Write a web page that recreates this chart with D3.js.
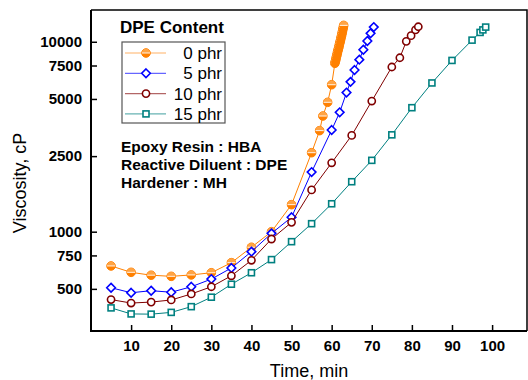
<!DOCTYPE html>
<html>
<head>
<meta charset="utf-8">
<script src="https://cdn.jsdelivr.net/npm/d3@7"></script>
<style>
  body { margin: 0; background: #fff; }
  text { font-family: Arial, "Liberation Sans", sans-serif; }
</style>
</head>
<body>
<script>
// viscosity (cP) vs time (min)
var t0 = [5,10,15,20,25,30,35,40,45,50,55,57,57.8,59,60,
    60.8,60.9,61,61.1,61.2,61.3,61.4,61.5,61.6,61.7,61.8,61.9,62,62.1,62.2,62.3,62.4,62.5,62.6,62.7,62.8,62.9,63]
var v0 = [660,611,590,582,592,608,687,828,1000,1388,2606,3405,4065,4800,5940,
    7700,7850,8000,8170,8350,8520,8700,8870,9050,9220,9400,9600,9800,10000,10200,10420,10650,10870,11100,11370,11650,11920,12200]

var t5 = [5,10,15,20,25,30,35,40,45,50,55,60,62,63.7,64.7,65.7,66.9,67.9,68.9,69.7,70.5]
var v5 = [507,477,489,480,513,563,644,785,980,1191,2060,3430,4250,5400,6150,7100,8050,9080,10100,11080,11950]

var t10 = [5,10,15,20,25,30,35,40,45,50,55,60,65,70,75,77,78.6,79.8,80.9,81.6]
var v10 = [439,421,426,437,470,513,586,707,915,1120,1660,2305,3213,4875,7365,8240,10050,10770,11550,12000]

var t15 = [5,10,15,20,25,30,35,40,45,50,55,60,65,70,75,80,85,90,95,97,97.7,98.4]
var v15 = [397,369,368,376,403,452,529,608,713,886,1102,1403,1833,2375,3236,4497,6070,7975,10200,11200,11550,11950]

var xTicks = [10,20,30,40,50,60,70,80,90,100]
var yTicks = [500,750,1000,2500,5000,7500,10000]
var seriesNames = ["0 phr","5 phr","10 phr","15 phr"]
var notes = ["Epoxy Resin : HBA","Reactive Diluent : DPE","Hardener : MH"]

var width = 528, height = 380
var pLeft = 91, pRight = 527, pTop = 10, pBottom = 331

var svg = d3.select("body").append("svg")
    .attr("width", width)
    .attr("height", height)

var x = d3.scaleLinear().domain([0, 108.7]).range([pLeft, pRight])
var y = d3.scaleLog().domain([300, 14700]).range([pBottom, pTop])

var series = [
    {name: seriesNames[0], t: t0, v: v0, color: "#ff8000", shape: "half"},
    {name: seriesNames[1], t: t5, v: v5, color: "#0000ff", shape: "diamond"},
    {name: seriesNames[2], t: t10, v: v10, color: "#800000", shape: "circle"},
    {name: seriesNames[3], t: t15, v: v15, color: "#008080", shape: "square"}
]
series.forEach(function(s){
    s.points = s.t.map(function(d, i){ return {t: d, v: s.v[i]} })
})

// axes, ticks inside
svg.append("g")
    .attr("transform", "translate(0," + pBottom + ")")
    .call(d3.axisBottom(x).tickValues(xTicks).tickSize(-6).tickPadding(9).tickFormat(d3.format("d")))
    .call(function(g){ g.select(".domain").remove() })
    .call(function(g){ g.selectAll("line").attr("stroke-width", 1.5) })
    .selectAll("text").attr("font-size", 15).attr("font-weight", "bold").attr("fill", "#000")

svg.append("g")
    .attr("transform", "translate(" + pLeft + ",0)")
    .call(d3.axisLeft(y).tickValues(yTicks).tickSize(-6).tickPadding(9).tickFormat(d3.format("d")))
    .call(function(g){ g.select(".domain").remove() })
    .call(function(g){ g.selectAll("line").attr("stroke-width", 1.5) })
    .selectAll("text").attr("font-size", 15).attr("font-weight", "bold").attr("fill", "#000")

// frame
svg.append("path")
    .attr("d", "M" + pLeft + "," + pTop + "H" + pRight + "V" + pBottom)
    .attr("fill", "none").attr("stroke", "#000").attr("stroke-width", 1.5)
svg.append("path")
    .attr("d", "M" + pLeft + "," + pTop + "V" + pBottom + "H" + pRight)
    .attr("fill", "none").attr("stroke", "#000").attr("stroke-width", 2)

var line = d3.line().x(function(d){ return x(d.t) }).y(function(d){ return y(d.v) })

function drawMarker(g, s){
    if (s.shape === "half") {
        g.append("circle").attr("r", 4.3).attr("fill", s.color).attr("stroke", s.color).attr("stroke-width", 1)
        g.append("path").attr("d", "M-4.3,0A4.3,4.3 0 0 1 4.3,0Z").attr("fill", "#ffa445")
        g.append("line").attr("x1", -4).attr("x2", 4).attr("stroke", "#fff").attr("stroke-width", 0.9)
    } else if (s.shape === "diamond") {
        g.append("path").attr("d", "M0,-4.3L4.3,0L0,4.3L-4.3,0Z")
            .attr("fill", "#fff").attr("stroke", s.color).attr("stroke-width", 1.6)
    } else if (s.shape === "circle") {
        g.append("circle").attr("r", 3.6)
            .attr("fill", "#fff").attr("stroke", s.color).attr("stroke-width", 1.6)
    } else {
        g.append("rect").attr("x", -3).attr("y", -3).attr("width", 6).attr("height", 6)
            .attr("fill", "#fff").attr("stroke", s.color).attr("stroke-width", 1.6)
    }
}

series.forEach(function(s){
    svg.append("path")
        .datum(s.points)
        .attr("d", line)
        .attr("fill", "none")
        .attr("stroke", s.color)
        .attr("stroke-width", 1)
    svg.append("g").selectAll("g")
        .data(s.points)
        .enter().append("g")
        .attr("transform", function(d){ return "translate(" + x(d.t) + "," + y(d.v) + ")" })
        .each(function(){ drawMarker(d3.select(this), s) })
})

// legend
svg.append("text").attr("x", 120).attr("y", 33)
    .attr("font-size", 17).attr("font-weight", "bold").text("DPE Content")
svg.append("rect").attr("x", 122).attr("y", 42).attr("width", 103).attr("height", 81)
    .attr("fill", "#fff").attr("stroke", "#555").attr("stroke-width", 1.2)
series.forEach(function(s, i){
    var ly = 53 + i * 20.3
    svg.append("line").attr("x1", 125).attr("x2", 166).attr("y1", ly).attr("y2", ly)
        .attr("stroke", s.color).attr("stroke-opacity", 0.6).attr("stroke-width", 1.2)
    drawMarker(svg.append("g").attr("transform", "translate(146," + ly + ")"), s)
    svg.append("text").attr("x", 222).attr("y", ly + 6)
        .attr("text-anchor", "end").attr("font-size", 17).text(s.name)
})

// notes
notes.forEach(function(n, i){
    svg.append("text").attr("x", 121).attr("y", 152 + i * 18)
        .attr("font-size", 15.5).attr("font-weight", "bold").text(n)
})

// axis titles
svg.append("text").attr("x", (pLeft + pRight) / 2).attr("y", 377)
    .attr("text-anchor", "middle").attr("font-size", 18).text("Time, min")
svg.append("text").attr("transform", "translate(26,183) rotate(-90)")
    .attr("text-anchor", "middle").attr("font-size", 18).text("Viscosity, cP")
</script>
</body>
</html>
